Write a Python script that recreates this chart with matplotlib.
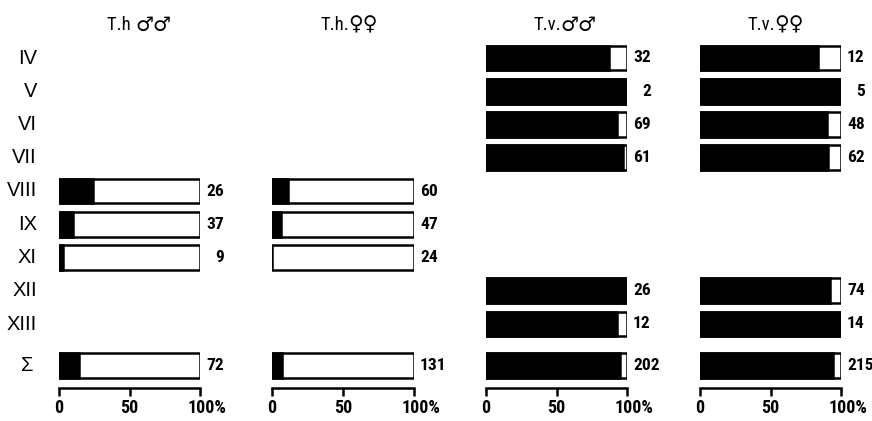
import matplotlib
matplotlib.use("Agg")
import matplotlib.pyplot as plt
from matplotlib import font_manager
from matplotlib.transforms import ScaledTranslation, blended_transform_factory

# look for a condensed face among the installed fonts
condensed = ['ultra-condensed', 'extra-condensed', 'condensed', 'semi-condensed']
narrow = None
for f in font_manager.fontManager.ttflist:
    st = f.stretch
    if (isinstance(st, str) and st in condensed) or (isinstance(st, int) and st < 500):
        narrow = f.name
        break
for name in ['Liberation Sans Narrow', 'DejaVu Sans Condensed', 'Roboto Condensed']:
    if name in {f.name for f in font_manager.fontManager.ttflist}:
        narrow = name
        break

if narrow:
    plt.rcParams['font.family'] = [narrow, 'DejaVu Sans']
    plt.rcParams['font.stretch'] = 'condensed'
    fs = 12.5
else:
    plt.rcParams['font.family'] = ['DejaVu Sans']
    fs = 10.5

# stages (rows) and the summary row
rows = ['IV', 'V', 'VI', 'VII', 'VIII', 'IX', 'XI', 'XII', 'XIII', 'Σ']
row_pos = [0, 1, 2, 3, 4, 5, 6, 7, 8, 9.25]

titles = ['T.h ', 'T.h.', 'T.v.', 'T.v.']
symbols = ['♂♂', '♀♀', '♂♂', '♀♀']

# share (%) of the black part of each bar; None = no sample
th_m_pct = [None, None, None, None, 24, 10, 3, None, None, 14]
th_f_pct = [None, None, None, None, 11, 6, 0, None, None, 7]
tv_m_pct = [87, 100, 93, 97, None, None, None, 100, 93, 95]
tv_f_pct = [84, 100, 90, 91, None, None, None, 92, 100, 94]

# sample sizes written next to the bars
th_m_n = [None, None, None, None, 26, 37, 9, None, None, 72]
th_f_n = [None, None, None, None, 60, 47, 24, None, None, 131]
tv_m_n = [32, 2, 69, 61, None, None, None, 26, 12, 202]
tv_f_n = [12, 5, 48, 62, None, None, None, 74, 14, 215]

pcts = [th_m_pct, th_f_pct, tv_m_pct, tv_f_pct]
counts = [th_m_n, th_f_n, tv_m_n, tv_f_n]

W, H = 872, 421
fig = plt.figure(figsize=(W / 100, H / 100), dpi=100)

# width of a two-digit number, so short counts line up on the right
probe = fig.text(0, 0, '88', fontsize=fs, fontweight='bold')
fig.canvas.draw()
w2 = probe.get_window_extent().width
probe.remove()

# panel x extents in pixels (0 % .. 100 %)
panels_px = [(59, 200), (272, 414), (486, 627), (700, 841)]
title_x = [107, 320, 533, 747]

# vertical mapping: row 0 at 58 px, spacing 33.25 px, axis line at 388 px
y0_px, dy_px, base_px = 58, 33.25, 388
ytop = -y0_px / dy_px
ybot = (base_px - y0_px) / dy_px

for k, (x0, x1) in enumerate(panels_px):
    ax = fig.add_axes([x0 / W, (H - base_px) / H, (x1 - x0) / W, base_px / H])
    ax.set_xlim(0, 100)
    ax.set_ylim(ybot, ytop)
    for s in ['top', 'left', 'right']:
        ax.spines[s].set_visible(False)
    ax.spines['bottom'].set_linewidth(1.8)
    ax.set_yticks([])
    ax.set_xticks([0, 50, 100])
    ax.set_xticklabels(['0', '50', '100%'])
    ax.tick_params(axis='x', direction='out', length=6, width=1.8, pad=2,
                   labelsize=fs + 0.5)
    for lab in ax.get_xticklabels():
        lab.set_fontweight('bold')
    last = ax.get_xticklabels()[-1]
    last.set_transform(last.get_transform() + ScaledTranslation(0.07, 0, fig.dpi_scale_trans))

    # panel heading: species name plus sex symbols
    tr_head = blended_transform_factory(fig.transFigure, ax.transData)
    t = ax.text(title_x[k] / W, -0.98, titles[k], ha='left', va='center',
                fontsize=fs + 1, transform=tr_head)
    fig.canvas.draw()
    bb = t.get_window_extent()
    ax.text(bb.x1 / W, -0.98, symbols[k], ha='left', va='center',
            fontsize=fs + 2, fontweight='bold', family='DejaVu Sans',
            fontstretch='normal', transform=tr_head)

    for i, y in enumerate(row_pos):
        p = pcts[k][i]
        n = counts[k][i]
        if p is None:
            continue
        ax.barh(y, 100, height=0.75, color='white', edgecolor='black',
                linewidth=1.8, zorder=2)
        if p > 0:
            ax.barh(y, p, height=0.75, color='black', edgecolor='black',
                    linewidth=1.8, zorder=3)
        if n < 100:
            off = ScaledTranslation((6 + w2) / 100, 0, fig.dpi_scale_trans)
            ha = 'right'
        else:
            off = ScaledTranslation(6 / 100, 0, fig.dpi_scale_trans)
            ha = 'left'
        ax.text(100, y, str(n), ha=ha, va='center', fontsize=fs,
                fontweight='bold', transform=ax.transData + off, clip_on=False)

    if k == 0:
        tr = blended_transform_factory(fig.transFigure, ax.transData)
        for y, r in zip(row_pos, rows):
            xr = 37 if r != 'Σ' else 33
            ax.text(xr / W, y, r, ha='right', va='center', fontsize=14.5,
                    family=['Liberation Sans', 'DejaVu Sans'],
                    fontstretch='normal', transform=tr, clip_on=False)

fig.savefig('out.png', dpi=100, facecolor='white')
